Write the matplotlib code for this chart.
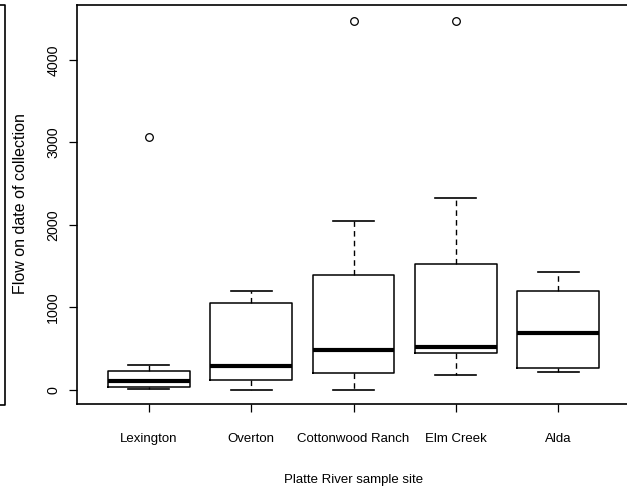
import matplotlib
matplotlib.use('Agg')
import matplotlib.pyplot as plt
from matplotlib.lines import Line2D

plt.rcParams['font.family'] = ['Liberation Sans', 'DejaVu Sans']

# values
sites = ['Lexington', 'Overton', 'Cottonwood Ranch', 'Elm Creek', 'Alda']
whislo = [12, 0, 0, 181, 218]
q1 = [36, 121, 205, 447, 266]
med = [109, 290, 483, 520, 689]
q3 = [229, 1051, 1390, 1523, 1196]
whishi = [302, 1196, 2042, 2332, 1426]
fliers = [[3069], [], [4471], [4471], []]
yticks = [0, 1000, 2000, 3000, 4000]

W, H = 627, 490
fig = plt.figure(figsize=(W / 100, H / 100), dpi=100)
ax = fig.add_axes([77 / W, 1 - 404 / H, (630 - 77) / W, (404 - 5.5) / H])

stats = []
for i in range(len(sites)):
    stats.append(dict(label=sites[i], whislo=whislo[i], q1=q1[i], med=med[i],
                      q3=q3[i], whishi=whishi[i], fliers=fliers[i]))

ax.bxp(stats, positions=range(1, len(sites) + 1), widths=0.8, capwidths=0.4,
       boxprops=dict(color='black', linewidth=1.1),
       medianprops=dict(color='black', linewidth=3),
       whiskerprops=dict(color='black', linewidth=1.0, linestyle=(0, (4, 3))),
       capprops=dict(color='black', linewidth=1.2),
       flierprops=dict(marker='o', markerfacecolor='none', markeredgecolor='black',
                       markersize=5.5, markeredgewidth=0.9))

ax.set_xlim(0.3, 5.7)
ax.set_ylim(-170, 4660)
ax.set_yticks(yticks)
ax.set_yticklabels([str(v) for v in yticks], rotation=90, va='center')
ax.tick_params(axis='both', direction='out', length=6, width=0.9, labelsize=9.5,
               colors='black')
ax.tick_params(axis='y', pad=6, labelsize=10.3)
ax.tick_params(axis='x', pad=15)
for s in ['left', 'bottom', 'top', 'right']:
    ax.spines[s].set_linewidth(1.2)

fig.text(354 / W, 1 - 480 / H, 'Platte River sample site', ha='center', va='center',
         fontsize=9.5)
fig.text(21 / W, 1 - 204 / H, 'Flow on date of collection', ha='center', va='center',
         rotation=90, fontsize=11.5)

# edge of the neighbouring panel, cut off at the left
fig.add_artist(Line2D([0, 5 / W, 5 / W, 0], [1 - 5 / H, 1 - 5 / H, 1 - 405 / H, 1 - 405 / H],
                      transform=fig.transFigure, color='black', linewidth=1.2))

fig.savefig('out.png', dpi=100)
